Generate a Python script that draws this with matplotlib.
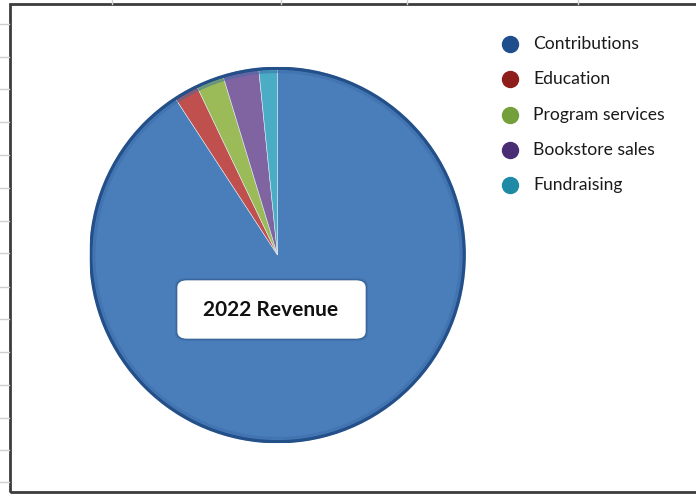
import matplotlib
matplotlib.use("Agg")
import matplotlib.pyplot as plt
from matplotlib.patches import Rectangle, FancyBboxPatch, Circle
from matplotlib.lines import Line2D

categories = ["Contributions", "Education", "Program services", "Bookstore sales", "Fundraising"]
values = [90.8, 2.1, 2.4, 3.1, 1.6]
colors = ["#4A7EBB", "#C0504D", "#9BBB59", "#8064A2", "#4BACC6"]
legend_colors = ["#1F4E8C", "#8E1E1B", "#73A03A", "#4A2C74", "#1F8AA6"]
title_text = "2022 Revenue"

W, H = 696, 495
fig = plt.figure(figsize=(W / 100, H / 100), dpi=100)
fig.patch.set_facecolor("white")

def fx(px):
    return px / W

def fy(py):
    return 1 - py / H

# spreadsheet grid stubs
for y in [24.3, 56.7, 89.2, 122, 154.7, 187.5, 220.6, 253.4, 286.5, 319, 351.7, 384.8, 417.6, 450, 482.4]:
    fig.add_artist(Line2D([0, fx(9)], [fy(y), fy(y)], transform=fig.transFigure, color="#cfcfcf", lw=1))
for x in [112, 281, 407, 578]:
    fig.add_artist(Line2D([fx(x), fx(x)], [1, fy(4)], transform=fig.transFigure, color="#cfcfcf", lw=1))

# chart border
fig.add_artist(Rectangle((fx(9.5), fy(492)), fx(700) - fx(9.5), fy(4) - fy(492),
                         transform=fig.transFigure, fill=False, edgecolor="#3c3c3c", lw=2))

# pie axes
cx, cy, r = 277.5, 255, 188
ax = fig.add_axes([fx(cx - r), fy(cy + r), fx(2 * r), (2 * r) / H])
wedges, _ = ax.pie(values, colors=colors, startangle=90, counterclock=False, radius=1.0,
                   wedgeprops=dict(edgecolor="#dfe8f2", linewidth=0.4))
ax.add_patch(Circle((0, 0), 0.993, fill=False, edgecolor="#24508A", lw=2.4))
ax.add_patch(Circle((0, 0), 0.975, fill=False, edgecolor="#3A6CA8", lw=2.0, alpha=0.5))
ax.set_xlim(-1.0, 1.0)
ax.set_ylim(-1.0, 1.0)
ax.set_aspect("equal")
ax.axis("off")

# legend (manual)
rows_y = [44, 79, 115, 150, 185]
for lab, col, y in zip(categories, legend_colors, rows_y):
    fig.add_artist(Line2D([fx(510)], [fy(y)], transform=fig.transFigure, marker="o",
                          markersize=11.5, markerfacecolor=col, markeredgecolor=col, linestyle="none"))
    fig.text(fx(533), fy(y), lab, ha="left", va="center", fontsize=12.6,
             family=["Lato", "DejaVu Sans"], color="#1a1a1a")

# title box
for i, (pad, a) in enumerate([(3.0, 0.15), (2.0, 0.25), (1.0, 0.4)]):
    sh = FancyBboxPatch((fx(178 - pad), fy(338 + pad)), fx(187 + 2 * pad), (57 + 2 * pad) / H,
                        boxstyle="round,pad=0,rounding_size=0.016", transform=fig.transFigure,
                        facecolor="#1d3f6b", edgecolor="none", alpha=a)
    fig.add_artist(sh)
box = FancyBboxPatch((fx(178), fy(338)), fx(187), 57 / H,
                     boxstyle="round,pad=0,rounding_size=0.013", transform=fig.transFigure,
                     facecolor="white", edgecolor="white")
fig.add_artist(box)
fig.text(fx(271), fy(310), title_text, ha="center", va="center", fontsize=15, fontweight="bold",
         family=["Lato", "DejaVu Sans"], color="#111111")

fig.savefig("out.png", dpi=100)
